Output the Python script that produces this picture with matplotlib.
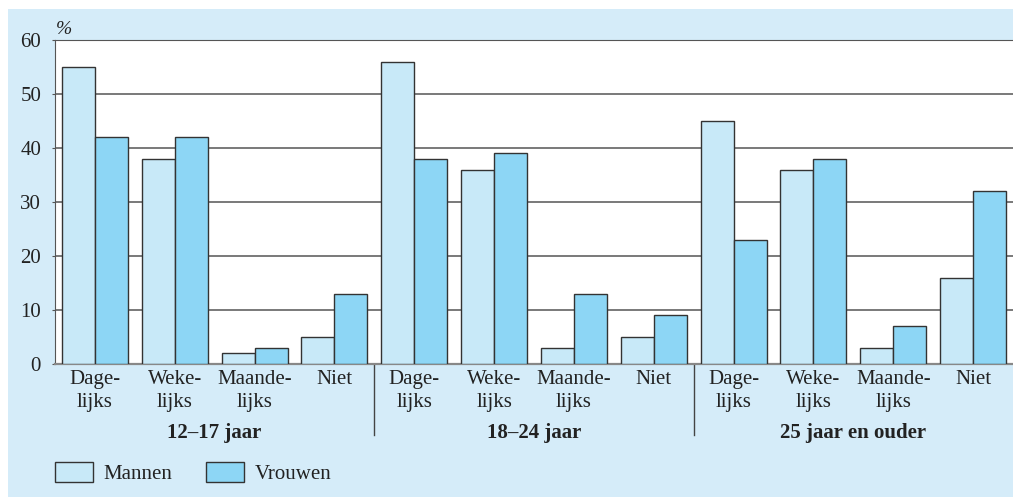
import numpy as np
import matplotlib
matplotlib.use("Agg")
from matplotlib import pyplot as plt
from matplotlib.patches import Rectangle, Patch
from matplotlib.transforms import blended_transform_factory

# data
groups = ["12\u201317 jaar", "18\u201324 jaar", "25 jaar en ouder"]
freq_labels = ["Dage-\nlijks", "Weke-\nlijks", "Maande-\nlijks", "Niet"]
mannen = [55, 38, 2, 5, 56, 36, 3, 5, 45, 36, 3, 16]
vrouwen = [42, 42, 3, 13, 38, 39, 13, 9, 23, 38, 7, 32]
series_names = ["Mannen", "Vrouwen"]

c_man = "#c8e9f8"
c_vrouw = "#8dd6f5"
c_bg = "#d5ecf9"
c_edge = "#333333"
c_text = "#222222"

plt.rcParams["font.family"] = ["Liberation Serif", "DejaVu Serif"]

fig = plt.figure(figsize=(10.13, 4.97), dpi=100)
fig.patches.append(Rectangle((8 / 1013, 0), 1, 1 - 9 / 497, transform=fig.transFigure,
                             facecolor=c_bg, edgecolor="none", zorder=-10))

ax = fig.add_axes([55 / 1013, 133 / 497, 958 / 1013, 324 / 497])
ax.set_facecolor("white")

x = np.arange(len(mannen))
w = 33 / 80
ax.bar(x - w / 2, mannen, w, color=c_man, edgecolor=c_edge, linewidth=1.0, zorder=3)
ax.bar(x + w / 2, vrouwen, w, color=c_vrouw, edgecolor=c_edge, linewidth=1.0, zorder=3)

ax.set_xlim(-0.5, len(mannen) - 0.5)
ax.set_ylim(0, 60)
ax.set_yticks(range(0, 61, 10))
ax.yaxis.grid(True, color="#555555", linewidth=1.1, zorder=0)
ax.tick_params(axis="y", length=2, color="#555555", labelsize=15, labelcolor=c_text, pad=8)

ax.set_xticks(x)
ax.set_xticklabels(freq_labels * len(groups), fontsize=15, color=c_text, linespacing=1.3)
ax.tick_params(axis="x", length=0, pad=4)

ax.spines["right"].set_visible(False)
ax.spines["top"].set_color("#555555")
ax.spines["left"].set_color("#555555")
ax.spines["bottom"].set_color("#888888")
ax.spines["bottom"].set_linewidth(1.6)

ax.text(56 / 1013, 1 - 29 / 497, "%", transform=fig.transFigure, fontsize=14,
        color=c_text, ha="left", va="center", style="italic")

trans = blended_transform_factory(ax.transData, ax.transAxes)
for i, g in enumerate(groups):
    ax.text(i * 4 + 1.5, -0.213, g, transform=trans, ha="center", va="center",
            fontsize=15, fontweight="bold", color=c_text)
    if i > 0:
        ax.plot([i * 4 - 0.5, i * 4 - 0.5], [0, -0.22], transform=trans,
                color="#444444", linewidth=1.0, clip_on=False)

handles = [Patch(facecolor=c_man, edgecolor=c_edge, linewidth=1.0),
           Patch(facecolor=c_vrouw, edgecolor=c_edge, linewidth=1.0)]
fig.legend(handles, series_names, loc="center left", bbox_to_anchor=(36 / 1013, 1 - 473 / 497),
           ncol=2, frameon=False, fontsize=15, handlelength=1.85, handleheight=1.15,
           handletextpad=0.5, columnspacing=1.6, labelcolor=c_text)

fig.savefig("out.png", dpi=100)
